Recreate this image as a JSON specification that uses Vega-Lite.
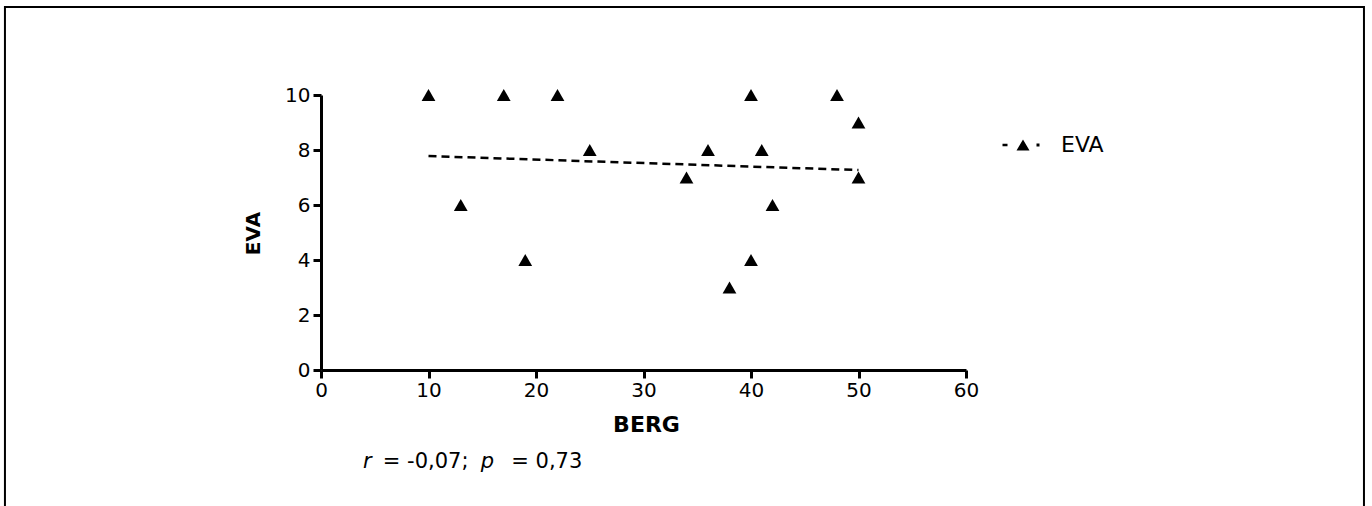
{
  "$schema": "https://vega.github.io/schema/vega-lite/v6.json",
  "autosize": {"type": "none"},
  "width": 645,
  "height": 275,
  "padding": {"left": 321, "top": 95, "right": 406, "bottom": 136},
  "background": "white",
  "config": {
    "view": {"stroke": null},
    "font": "DejaVu Sans",
    "axis": {
      "domainColor": "black", "domainWidth": 3, "tickColor": "black", "tickWidth": 3, "tickSize": 8,
      "grid": false, "labelFont": "DejaVu Sans", "labelFontSize": 20, "labelColor": "black",
      "titleFont": "DejaVu Sans", "titleFontSize": 21, "titleFontWeight": "bold", "titleColor": "black",
      "labelPadding": 3, "labelFlush": false, "labelOverlap": false
    },
    "axisX": {"titleX": 325, "titleY": 54, "titleBaseline": "middle", "titleAlign": "center", "labelPadding": 2, "titleFontSize": 22},
    "axisY": {"titleX": -68, "titleY": 138, "titleAngle": 270, "titleBaseline": "middle", "titleAlign": "center", "titleFontSize": 20}
  },
  "layer": [
    {
      "data": {"values": [{"a": 1}]},
      "mark": {"type": "rect", "filled": false, "stroke": "black", "strokeWidth": 2},
      "encoding": {
        "x": {"datum": -29.4, "type": "quantitative", "title": "BERG", "scale": {"domain": [0, 60], "nice": false}, "axis": {"values": [0, 10, 20, 30, 40, 50, 60]}},
        "x2": {"datum": 97.02},
        "y": {"datum": 13.2, "type": "quantitative", "title": "EVA", "scale": {"domain": [0, 10], "nice": false}, "axis": {"values": [0, 2, 4, 6, 8, 10]}},
        "y2": {"datum": -5.6}
      }
    },
    {
      "data": {"values": [{"BERG": 10, "EVA": 7.78}, {"BERG": 50, "EVA": 7.27}]},
      "mark": {"type": "line", "color": "black", "strokeWidth": 2.5, "strokeDash": [8, 5]},
      "encoding": {
        "x": {"field": "BERG", "type": "quantitative", "title": "BERG", "scale": {"domain": [0, 60], "nice": false}, "axis": {"values": [0, 10, 20, 30, 40, 50, 60]}},
        "y": {"field": "EVA", "type": "quantitative", "title": "EVA", "scale": {"domain": [0, 10], "nice": false}, "axis": {"values": [0, 2, 4, 6, 8, 10]}}
      }
    },
    {
      "data": {"values": [
        {"BERG": 10, "EVA": 10, "series": "EVA"},
        {"BERG": 13, "EVA": 6, "series": "EVA"},
        {"BERG": 17, "EVA": 10, "series": "EVA"},
        {"BERG": 19, "EVA": 4, "series": "EVA"},
        {"BERG": 22, "EVA": 10, "series": "EVA"},
        {"BERG": 25, "EVA": 8, "series": "EVA"},
        {"BERG": 34, "EVA": 7, "series": "EVA"},
        {"BERG": 36, "EVA": 8, "series": "EVA"},
        {"BERG": 38, "EVA": 3, "series": "EVA"},
        {"BERG": 40, "EVA": 10, "series": "EVA"},
        {"BERG": 40, "EVA": 4, "series": "EVA"},
        {"BERG": 41, "EVA": 8, "series": "EVA"},
        {"BERG": 42, "EVA": 6, "series": "EVA"},
        {"BERG": 48, "EVA": 10, "series": "EVA"},
        {"BERG": 50, "EVA": 9, "series": "EVA"},
        {"BERG": 50, "EVA": 7, "series": "EVA"}
      ]},
      "mark": {"type": "point", "shape": "triangle-up", "filled": true, "size": 190, "opacity": 1, "strokeWidth": 0},
      "encoding": {
        "x": {"field": "BERG", "type": "quantitative", "title": "BERG", "scale": {"domain": [0, 60], "nice": false}, "axis": {"values": [0, 10, 20, 30, 40, 50, 60]}},
        "y": {"field": "EVA", "type": "quantitative", "title": "EVA", "scale": {"domain": [0, 10], "nice": false}, "axis": {"values": [0, 2, 4, 6, 8, 10]}},
        "color": {"field": "series", "type": "nominal", "scale": {"range": ["black"]},
                  "legend": {"title": null, "orient": "none", "legendX": 682, "legendY": 30, "padding": 0,
                             "symbolType": "M-0.325,0.275L0,-0.275L0.325,0.275Z M-1.025,-0.06H-0.775V0.06H-1.025Z M0.675,-0.075H0.825V0.075H0.675Z",
                             "symbolSize": 1600, "symbolFillColor": "black", "symbolStrokeWidth": 0, "symbolOpacity": 1,
                             "labelFont": "DejaVu Sans", "labelFontSize": 22, "labelColor": "black", "labelOffset": 18}}
      }
    },
    {
      "data": {"values": [{"t": "r"}]},
      "mark": {"type": "text", "align": "left", "baseline": "middle", "fontStyle": "italic", "fontSize": 21, "font": "DejaVu Sans", "color": "black"},
      "encoding": {
        "text": {"field": "t"},
        "x": {"datum": 3.9, "type": "quantitative", "title": "BERG", "scale": {"domain": [0, 60], "nice": false}, "axis": {"values": [0, 10, 20, 30, 40, 50, 60]}},
        "y": {"datum": -3.35, "type": "quantitative", "title": "EVA", "scale": {"domain": [0, 10], "nice": false}, "axis": {"values": [0, 2, 4, 6, 8, 10]}}
      }
    },
    {
      "data": {"values": [{"t": "= -0,07;"}]},
      "mark": {"type": "text", "align": "left", "baseline": "middle", "fontSize": 21, "font": "DejaVu Sans", "color": "black"},
      "encoding": {
        "text": {"field": "t"},
        "x": {"datum": 5.75, "type": "quantitative", "title": "BERG", "scale": {"domain": [0, 60], "nice": false}, "axis": {"values": [0, 10, 20, 30, 40, 50, 60]}},
        "y": {"datum": -3.35, "type": "quantitative", "title": "EVA", "scale": {"domain": [0, 10], "nice": false}, "axis": {"values": [0, 2, 4, 6, 8, 10]}}
      }
    },
    {
      "data": {"values": [{"t": "p"}]},
      "mark": {"type": "text", "align": "left", "baseline": "middle", "fontStyle": "italic", "fontSize": 21, "font": "DejaVu Sans", "color": "black"},
      "encoding": {
        "text": {"field": "t"},
        "x": {"datum": 14.85, "type": "quantitative", "title": "BERG", "scale": {"domain": [0, 60], "nice": false}, "axis": {"values": [0, 10, 20, 30, 40, 50, 60]}},
        "y": {"datum": -3.35, "type": "quantitative", "title": "EVA", "scale": {"domain": [0, 10], "nice": false}, "axis": {"values": [0, 2, 4, 6, 8, 10]}}
      }
    },
    {
      "data": {"values": [{"t": "= 0,73"}]},
      "mark": {"type": "text", "align": "left", "baseline": "middle", "fontSize": 21, "font": "DejaVu Sans", "color": "black"},
      "encoding": {
        "text": {"field": "t"},
        "x": {"datum": 17.7, "type": "quantitative", "title": "BERG", "scale": {"domain": [0, 60], "nice": false}, "axis": {"values": [0, 10, 20, 30, 40, 50, 60]}},
        "y": {"datum": -3.35, "type": "quantitative", "title": "EVA", "scale": {"domain": [0, 10], "nice": false}, "axis": {"values": [0, 2, 4, 6, 8, 10]}}
      }
    }
  ]
}
